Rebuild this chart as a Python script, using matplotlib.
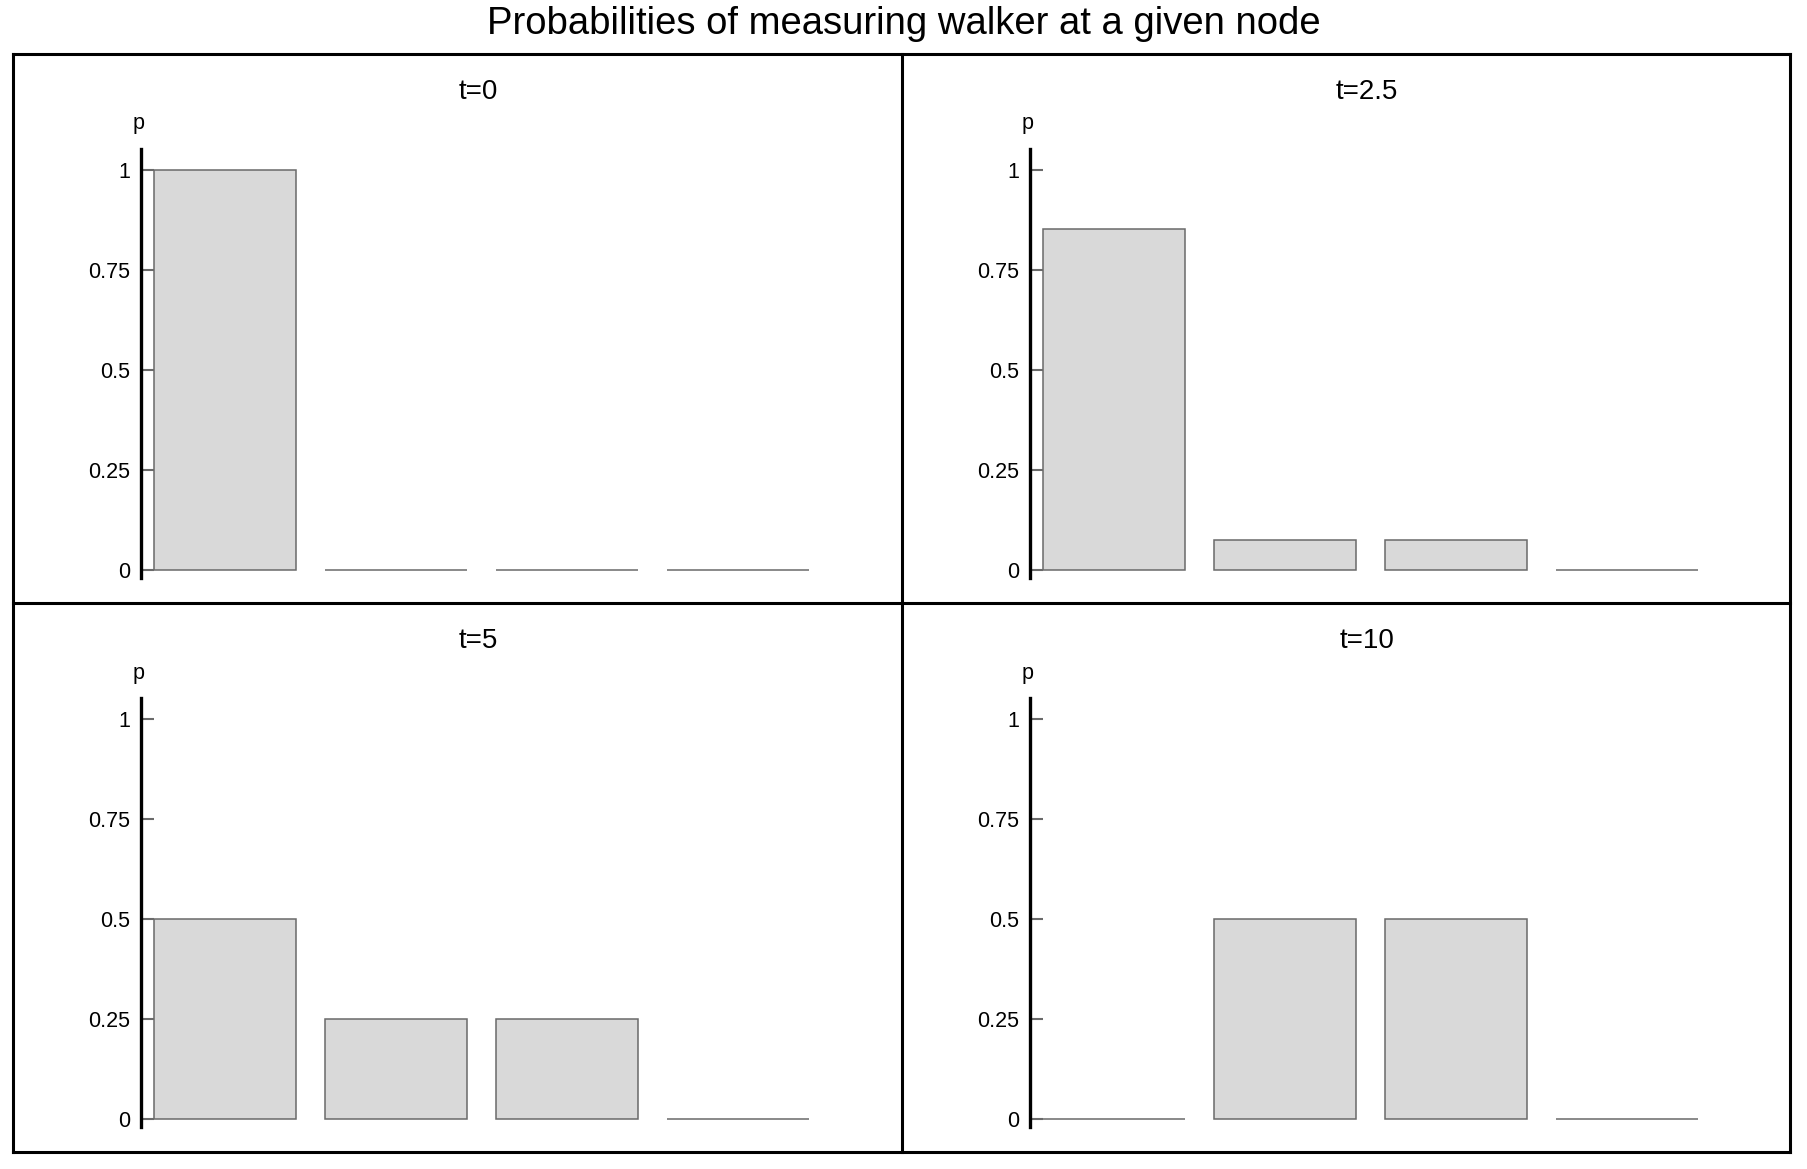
import matplotlib
matplotlib.use("Agg")
import matplotlib.pyplot as plt
from matplotlib.lines import Line2D

plt.rcParams['font.family'] = ['Liberation Sans', 'DejaVu Sans']

title = "Probabilities of measuring walker at a given node"
panel_titles = ["t=0", "t=2.5", "t=5", "t=10"]
nodes = [0, 1, 2, 3]
p_t0 = [1.0, 0.0, 0.0, 0.0]
p_t25 = [0.852, 0.074, 0.074, 0.0]
p_t5 = [0.5, 0.25, 0.25, 0.0]
p_t10 = [0.0, 0.5, 0.5, 0.0]
series = [p_t0, p_t25, p_t5, p_t10]
yticks = [0, 0.25, 0.5, 0.75, 1]
yticklabels = ["0", "0.25", "0.5", "0.75", "1"]

W, H = 1807, 1169
fig = plt.figure(figsize=(W / 100, H / 100), dpi=100)

def fx(px):
    return px / W

def fy(py):
    return 1 - py / H

# panel geometry in pixels
ax_left = [141, 1030]
ax_top = [149, 698]
ax_w = 674
ax_h = 429

k = 0
for r in range(2):
    for c in range(2):
        L = ax_left[c]
        T = ax_top[r]
        ax = fig.add_axes([fx(L), fy(T + ax_h), ax_w / W, ax_h / H])
        ax.bar(nodes, series[k], width=0.83, color='#d9d9d9',
               edgecolor='#6a6a6a', linewidth=1.1)
        ax.set_xlim(-0.49, 3.45)
        ax.set_ylim(-0.02, 1.052)
        for s in ['top', 'right', 'bottom']:
            ax.spines[s].set_visible(False)
        ax.spines['left'].set_linewidth(2.4)
        ax.spines['left'].set_color('black')
        ax.set_xticks([])
        ax.set_yticks(yticks)
        ax.set_yticklabels(yticklabels)
        ax.tick_params(axis='y', direction='in', length=9, width=1.5,
                       color='#6a6a6a', labelsize=15.5, pad=8, labelcolor='black')
        ax.patch.set_visible(False)
        fig.text(fx(L - 2), fy(T - 25), "p", ha='center', va='center', fontsize=15.5)
        fig.text(fx(L + ax_w / 2), fy(T - 57), panel_titles[k], ha='center',
                 va='center', fontsize=20)
        k += 1

fig.text(0.5, fy(24), title, ha='center', va='center', fontsize=27.5)

# outer frame and dividers
lw = 2.2
frame = [
    ([13, 1790], [54, 54]),
    ([13, 1790], [1152, 1152]),
    ([13, 13], [54, 1152]),
    ([1790, 1790], [54, 1152]),
    ([902, 902], [54, 1152]),
    ([13, 1790], [603, 603]),
]
for xs, ys in frame:
    fig.add_artist(Line2D([fx(x) for x in xs], [fy(y) for y in ys],
                          color='black', linewidth=lw))

fig.savefig("out.png", dpi=100)
